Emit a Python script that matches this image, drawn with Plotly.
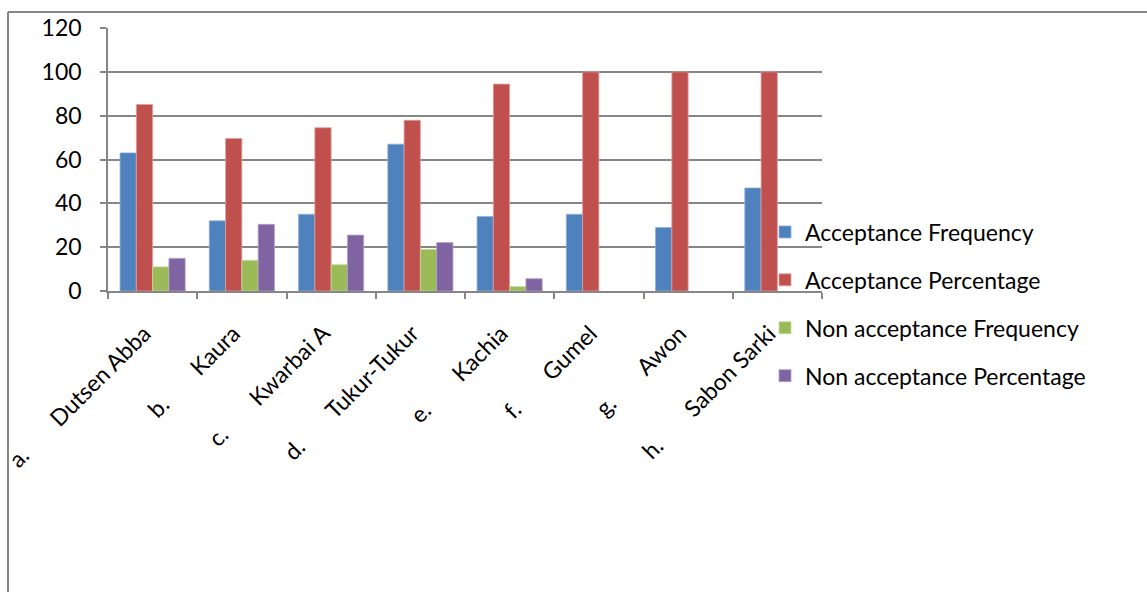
import plotly.graph_objects as go

NB = "\u00a0"
prefixes = ["a.", "b.", "c.", "d.", "e.", "f.", "g.", "h."]
places = ["Dutsen Abba", "Kaura", "Kwarbai A", "Tukur-Tukur", "Kachia", "Gumel", "Awon", "Sabon Sarki"]
categories = [p + NB * 7 + n + NB * 2 for p, n in zip(prefixes, places)]

acc_freq = [63, 32, 35, 67, 34, 35, 29, 47]
acc_pct = [85.1, 69.6, 74.5, 77.9, 94.4, 100, 100, 100]
non_freq = [11, 14, 12, 19, 2, 0, 0, 0]
non_pct = [14.9, 30.4, 25.5, 22.1, 5.6, 0, 0, 0]

series_names = ["Acceptance Frequency", "Acceptance Percentage",
                "Non acceptance Frequency", "Non acceptance Percentage"]
series_values = [acc_freq, acc_pct, non_freq, non_pct]
colors = ["#4F81BD", "#C0504D", "#9BBB59", "#8064A2"]
edges = ["#8FB0DA", "#E0A09E", "#C5D9A0", "#B3A2C9"]

fig = go.Figure()
for name, vals, c, e in zip(series_names, series_values, colors, edges):
    widths = [0.8 if v else 0 for v in vals]
    fig.add_trace(go.Bar(x=categories, y=vals, name=name, legendgroup=name,
                         marker=dict(color=c, line=dict(color=e, width=widths))))

W, H = 1147, 592
L, R, T, B = 108, 822, 28, 291
pw, ph = R - L, B - T

def px(x):
    return (x - L) / pw

def py(y):
    return (B - y) / ph

axis_col = "#868686"
font_family = "Lato, 'Open Sans', sans-serif"

fig.update_layout(
    width=W, height=H,
    margin=dict(l=L, r=W - R, t=T, b=H - B, autoexpand=False),
    paper_bgcolor="white", plot_bgcolor="white",
    barmode="group", bargap=0.27, bargroupgap=0,
    font=dict(family=font_family, color="black"),
    showlegend=True,
    legend=dict(x=px(765), xanchor="left", y=py(304), yanchor="middle",
                font=dict(size=23, family=font_family, color="black"),
                tracegroupgap=15, traceorder="grouped",
                itemwidth=30, bgcolor="rgba(0,0,0,0)"),
    xaxis=dict(showline=True, linecolor=axis_col, linewidth=1.5,
               ticks="outside", tickson="boundaries", ticklen=6, tickcolor=axis_col,
               tickwidth=1.5, tickangle=-45, ticklabelstandoff=10,
               tickfont=dict(size=23, family=font_family, color="black"),
               showgrid=False),
    yaxis=dict(range=[0, 120], dtick=20, showline=True, linecolor=axis_col,
               linewidth=1.5, ticks="outside", ticklen=6, tickcolor=axis_col,
               tickwidth=1.5, gridcolor=axis_col, gridwidth=1.5,
               zeroline=False, ticklabelstandoff=14,
               tickfont=dict(size=23, family=font_family, color="black")),
    shapes=[
        dict(type="line", xref="paper", yref="paper", x0=px(8), x1=px(1160),
             y0=py(12), y1=py(12), line=dict(color=axis_col, width=2)),
        dict(type="line", xref="paper", yref="paper", x0=px(8), x1=px(8),
             y0=py(12), y1=py(600), line=dict(color=axis_col, width=2)),
    ],
)

fig.write_html("out.html")
